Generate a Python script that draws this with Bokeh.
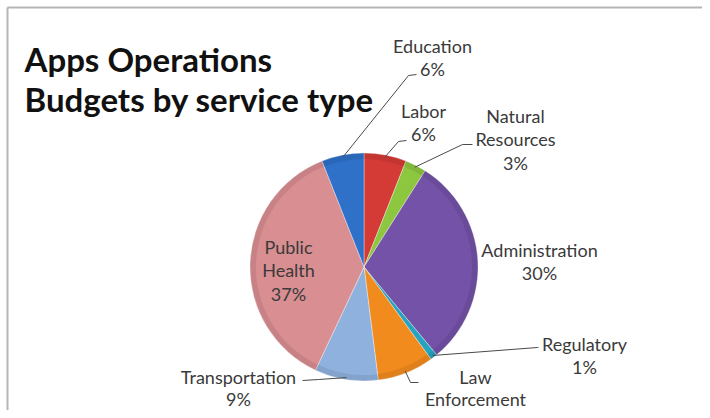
import math
from bokeh.plotting import figure
from bokeh.models import Range1d, Label
from bokeh.embed import file_html
from bokeh.resources import INLINE

# ---- data ----
categories = ["Labor", "Natural Resources", "Administration", "Regulatory",
              "Law Enforcement", "Transportation", "Public Health", "Education"]
values = [6, 3, 30, 1, 8, 9, 37, 6]
colors = ["#D43A36", "#8DC63F", "#7352A8", "#26A3BE",
          "#F28B1E", "#8FB1DE", "#D98E92", "#2F70C9"]
title_lines = ["Apps Operations", "Budgets by service type"]

W, H = 702, 410
p = figure(width=W, height=H, output_backend="svg", toolbar_location=None,
           x_range=Range1d(0, W), y_range=Range1d(0, H), min_border=0)
p.axis.visible = False
p.grid.visible = False
p.outline_line_color = None
p.background_fill_color = "white"
p.border_fill_color = "white"

def X(px):
    return px

def Y(py):
    return H - py

# frame lines (top and left)
p.segment(x0=[X(7), X(7)], y0=[Y(7), Y(7)], x1=[X(7), X(W)], y1=[Y(H), Y(7)],
          line_color="#B5B5B5", line_width=2)

# pie
cx, cy, R = 363.5, 266.5, 114
total = sum(values)
starts, ends, mids = [], [], []
acc = 0.0
for v in values:
    a0 = acc / total * 2 * math.pi
    acc += v
    a1 = acc / total * 2 * math.pi
    starts.append(math.pi / 2 - a0)
    ends.append(math.pi / 2 - a1)
    mids.append((a0 + a1) / 2)

p.wedge(x=X(cx), y=Y(cy), radius=R, start_angle=starts, end_angle=ends,
        direction="clock", fill_color=colors, line_color="#FFFFFF",
        line_alpha=0.35, line_width=1)
# subtle shading ring for a 3D-ish look
p.annular_wedge(x=X(cx), y=Y(cy), inner_radius=R - 6, outer_radius=R,
                start_angle=starts, end_angle=ends, direction="clock",
                fill_color="black", fill_alpha=0.08, line_color=None)

font = "Lato"
txt_color = "#3A3A3A"

def text(s, px, py, size="18px", bold=False, align="center", baseline="middle", color=txt_color):
    p.add_layout(Label(x=X(px), y=Y(py), text=s, text_font=font, text_font_size=size,
                       text_font_style="bold" if bold else "normal",
                       text_align=align, text_baseline=baseline, text_color=color))

# title
text(title_lines[0], 24, 58, size="33px", bold=True, align="left", baseline="alphabetic", color="#111111")
text(title_lines[1], 24, 98, size="33px", bold=True, align="left", baseline="alphabetic", color="#111111")

# label layout: lines of name, label centre, line spacing, leader (elbow, end) or None
layout = {
    "Labor": (["Labor"], (423, 110), 23.5, [(398, 141), (406, 140)]),
    "Natural Resources": (["Natural", "Resources"], (515, 115), 23.5, [(462, 144), (472, 144)]),
    "Administration": (["Administration"], (539, 249), 23.5, None),
    "Regulatory": (["Regulatory"], (584, 343), 23.5, [(537, 347), (538, 347)]),
    "Law Enforcement": (["Law", "Enforcement"], (475, 376), 22, [(410, 382), (418, 382)]),
    "Transportation": (["Transportation"], (238, 376), 22, [(318, 379), (302, 380)]),
    "Public Health": (["Public", "Health"], (288, 246), 23.5, None),
    "Education": (["Education"], (432, 45), 23.5, [(408, 75), (416, 74)]),
}
show_pct = {"Law Enforcement": False}

for name, v, mid in zip(categories, values, mids):
    lines, (lx, ly), lh, leader = layout[name]
    all_lines = list(lines)
    if show_pct.get(name, True):
        all_lines.append(f"{v}%")
    for i, s in enumerate(all_lines):
        text(s, lx, ly + i * lh)
    if leader:
        sx = cx + (R - 2) * math.sin(mid)
        sy = cy - (R - 2) * math.cos(mid)
        xs = [X(sx)] + [X(q[0]) for q in leader]
        ys = [Y(sy)] + [Y(q[1]) for q in leader]
        p.line(xs, ys, line_color="#4A4A4A", line_width=1)

open("out.html", "w").write(file_html(p, INLINE))
